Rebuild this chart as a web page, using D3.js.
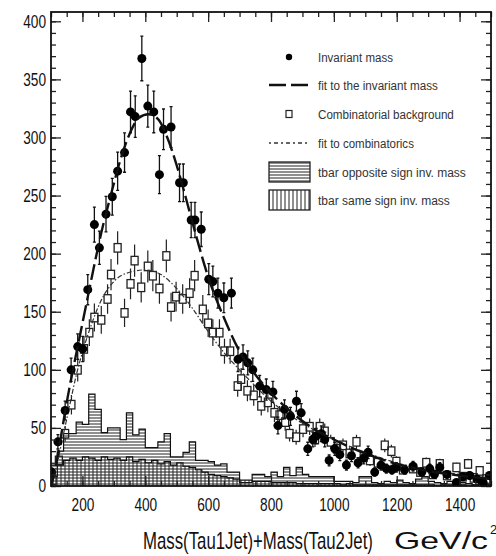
<!DOCTYPE html>
<html>
<head>
<meta charset="utf-8">
<script src="https://cdn.jsdelivr.net/npm/d3@7"></script>
<style>
body{margin:0;background:#fff}
svg{display:block}
</style>
</head>
<body>
<svg id="chart" width="496" height="556"></svg>
<script>
// invariant mass (filled circles)
var invMass=[102,122,145,164,185,201,217,238,254,275,295,312,334,353,368,389,408,427,445,458,482,509,521,546,558,578,602,615,631,650,674,695,711,726,742,764,785,806,822,843,862,881,896,917,933,944,960,971,985,1003,1019,1040,1056,1077,1095,1109,1130,1150,1167,1185,1199,1225,1252,1280,1305,1320,1337,1360,1390,1410,1432,1455,1475,1495]
var invCount=[12,38,65,100,120,118,169,225,205,234,249,271,287,322,318,368,327,322,268,307,309,261,261,229,229,221,178,176,166,162,166,109,111,106,100,86,83,81,52,66,60,73,63,32,40,43,45,40,22,32,27,18,26,20,24,29,12,18,15,14,16,14,17,12,15,10,16,10,3,8,9,6,3,9]

// combinatorial background (open squares)
var combMass=[105,125,145,165,185,205,222,238,260,280,291,312,334,353,366,387,408,424,445,467,482,498,519,541,557,583,600,615,636,652,670,694,705,725,745,769,790,811,827,845,859,880,902,923,940,955,971,990,1010,1029,1050,1072,1095,1115,1140,1162,1183,1199,1220,1252,1275,1294,1315,1337,1360,1390,1410,1427,1445,1464,1485]
var combCount=[5,22,45,70,100,118,132,145,143,161,182,205,149,174,194,171,189,181,170,198,154,163,161,166,181,152,140,132,132,116,116,86,92,82,78,69,72,63,61,55,45,42,49,51,40,51,47,38,32,35,28,38,25,22,20,35,30,21,14,15,12,20,10,19,9,16,8,19,7,13,6]

// fits
var fitInvMass=[100,110,130,150,170,200,230,260,290,320,350,380,410,440,470,500,530,560,600,650,700,750,800,850,900,950,1000,1100,1200,1300,1400,1500]
var fitInvVal=[0,10,40,72,100,140,180,218,250,280,303,317,320,316,300,276,247,217,180,145,116,96,80,67,56,47,40,28,19,13,9,6]
var fitCombMass=[100,120,140,160,180,200,230,260,300,350,400,450,500,550,600,650,700,750,800,900,1000,1100,1200,1300,1400,1500]
var fitCombVal=[0,20,45,70,95,115,140,160,176,184,186,182,170,153,133,115,100,86,73,54,40,29,20,14,10,7]

// ttbar histograms, 20 GeV bins
var binEdges=[100,120,140,160,180,200,220,240,260,280,300,320,340,360,380,400,420,440,460,480,500,520,540,560,580,600,620,640,660,680,700,720,740,760,780,800,820,840,860,880,900,920,940,960,980,1000,1020,1040,1060,1080,1100,1120,1140,1160,1180,1200,1220,1240,1260,1280,1300,1320,1340,1360,1380,1400,1420,1440,1460,1480,1500]
var oppSign=[18,30,45,45,55,53,79,66,46,50,50,40,63,44,49,33,33,38,45,25,25,29,38,22,22,21,18,19,12,12,3,3,10,10,8,12,8,16,9,16,10,8,8,8,8,4,4,4,3,8,8,3,2,4,3,5,3,2,6,8,4,3,2,4,2,3,2,1,2,1]
var sameSign=[8,18,22,24,22,25,24,22,25,23,24,22,25,21,23,20,22,19,21,18,20,17,16,14,12,10,9,8,7,6,5,5,4,4,4,3,3,3,3,2,2,2,2,2,2,2,1,2,1,1,1,1,1,1,1,1,1,1,1,1,1,0,1,1,0,1,0,1,0,1]

var xTicks=[200,400,600,800,1000,1200,1400]
var yTicks=[0,50,100,150,200,250,300,350,400]

var legendItems=[
  {label:'Invariant mass',kind:'dot',w:75},
  {label:'fit to the invariant mass',kind:'dash',w:120},
  {label:'Combinatorial background',kind:'square',w:136},
  {label:'fit to combinatorics',kind:'dotdash',w:96},
  {label:'tbar opposite sign inv. mass',kind:'hatchH',w:148},
  {label:'tbar same sign inv. mass',kind:'hatchV',w:132}
]

var svg=d3.select('#chart')
var frame={left:51,right:491,top:12,bottom:486}
var x=d3.scaleLinear().domain([100,1500]).range([frame.left,frame.right])
var y=d3.scaleLinear().domain([0,408]).range([frame.bottom,frame.top])
var font='"Liberation Sans Narrow","Liberation Sans",Arial,sans-serif'

// squeeze a text horizontally to a given width (condensed ROOT font)
function squeeze(t,px,py,width){
  var w=t.node().getComputedTextLength()
  t.attr('x',0).attr('y',0).attr('transform',`translate(${px},${py}) scale(${width/w},1)`)
}

var defs=svg.append('defs')
defs.append('clipPath').attr('id','clip').append('rect')
  .attr('x',frame.left).attr('y',frame.top)
  .attr('width',frame.right-frame.left).attr('height',frame.bottom-frame.top)
var pH=defs.append('pattern').attr('id','hatchH').attr('patternUnits','userSpaceOnUse').attr('width',6).attr('height',3)
pH.append('line').attr('x1',0).attr('x2',6).attr('y1',1).attr('y2',1).attr('stroke','#222').attr('stroke-width',1)
var pV=defs.append('pattern').attr('id','hatchV').attr('patternUnits','userSpaceOnUse').attr('width',4).attr('height',6)
pV.append('line').attr('x1',1).attr('x2',1).attr('y1',0).attr('y2',6).attr('stroke','#222').attr('stroke-width',1)

var plot=svg.append('g').attr('clip-path','url(#clip)')

// step histograms
function histData(vals){
  var pts=vals.map((v,i)=>[binEdges[i],v])
  pts.push([binEdges[vals.length],vals[vals.length-1]])
  return pts
}
var area=d3.area().curve(d3.curveStepAfter).x(d=>x(d[0])).y0(y(0)).y1(d=>y(d[1]))
var step=d3.line().curve(d3.curveStepAfter).x(d=>x(d[0])).y(d=>y(d[1]))
plot.append('path').attr('d',area(histData(oppSign))).attr('fill','url(#hatchH)')
plot.append('path').attr('d',step(histData(oppSign))).attr('fill','none').attr('stroke','#111').attr('stroke-width',1.2)
plot.append('path').attr('d',area(histData(sameSign))).attr('fill','url(#hatchV)')
plot.append('path').attr('d',step(histData(sameSign))).attr('fill','none').attr('stroke','#111').attr('stroke-width',1.2)

// combinatorial points, Poisson error bars
var comb=combMass.map((m,i)=>({m:m,v:combCount[i]}))
var sqW=7,sqH=8.5
var gc=plot.append('g')
gc.selectAll('path.err').data(comb).join('path').attr('class','err')
  .attr('d',d=>{
    var cx=x(d.m),cy=y(d.v),e=Math.sqrt(d.v)
    return `M${cx},${y(d.v+e)}V${cy-sqH/2}M${cx},${cy+sqH/2}V${y(Math.max(0,d.v-e))}`
  })
  .attr('stroke','#222').attr('stroke-width',1.2).attr('fill','none')
gc.selectAll('rect').data(comb).join('rect')
  .attr('x',d=>x(d.m)-sqW/2).attr('y',d=>y(d.v)-sqH/2)
  .attr('width',sqW).attr('height',sqH)
  .attr('fill','none').attr('stroke','#222').attr('stroke-width',1.3)

var fitLine=d3.line().curve(d3.curveMonotoneX).x(d=>x(d[0])).y(d=>y(d[1]))
plot.append('path').attr('d',fitLine(fitCombMass.map((m,i)=>[m,fitCombVal[i]])))
  .attr('fill','none').attr('stroke','#333').attr('stroke-width',1.2).attr('stroke-dasharray','5,2,1.5,2')

// invariant mass points
var inv=invMass.map((m,i)=>({m:m,v:invCount[i]}))
var gi=plot.append('g')
gi.selectAll('path').data(inv).join('path')
  .attr('d',d=>{
    var cx=x(d.m),e=Math.sqrt(d.v),t=y(d.v+e),b=y(Math.max(0,d.v-e))
    return `M${cx},${t}V${b}M${cx-1.5},${t}H${cx+1.5}M${cx-1.5},${b}H${cx+1.5}`
  })
  .attr('stroke','#111').attr('stroke-width',1.3).attr('fill','none')
gi.selectAll('circle').data(inv).join('circle')
  .attr('cx',d=>x(d.m)).attr('cy',d=>y(d.v)).attr('r',4.5).attr('fill','#000')

plot.append('path').attr('d',fitLine(fitInvMass.map((m,i)=>[m,fitInvVal[i]])))
  .attr('fill','none').attr('stroke','#111').attr('stroke-width',2.4).attr('stroke-dasharray','16,5')

// axes: ticks inside on all four sides
function clean(g){g.select('.domain').remove();g.selectAll('line').attr('stroke','#222').attr('stroke-width',1.3)}
var xMinor=d3.range(100,1501,50),yMinor=d3.range(0,409,10)
svg.append('g').attr('transform',`translate(0,${frame.bottom})`).call(d3.axisBottom(x).tickValues(xMinor).tickSize(-5).tickFormat('')).call(clean)
var xa=svg.append('g').attr('transform',`translate(0,${frame.bottom})`)
  .call(d3.axisBottom(x).tickValues(xTicks).tickSize(-10).tickPadding(0).tickFormat(d3.format('d'))).call(clean)
xa.selectAll('text').attr('y',25).attr('dy',0).attr('font-size',19).attr('font-family',font).attr('fill','#111')
  .attr('textLength',d=>String(d).length*7.6).attr('lengthAdjust','spacingAndGlyphs')
svg.append('g').attr('transform',`translate(0,${frame.top})`).call(d3.axisTop(x).tickValues(xMinor).tickSize(-5).tickFormat('')).call(clean)
svg.append('g').attr('transform',`translate(0,${frame.top})`).call(d3.axisTop(x).tickValues(xTicks).tickSize(-10).tickFormat('')).call(clean)

svg.append('g').attr('transform',`translate(${frame.left},0)`).call(d3.axisLeft(y).tickValues(yMinor).tickSize(-5).tickFormat('')).call(clean)
var ya=svg.append('g').attr('transform',`translate(${frame.left},0)`).call(d3.axisLeft(y).tickValues(yTicks).tickSize(-10).tickPadding(5)).call(clean)
ya.selectAll('text').attr('font-size',18).attr('font-family',font).attr('fill','#111')
  .attr('textLength',d=>String(d).length*7.6).attr('lengthAdjust','spacingAndGlyphs')
svg.append('g').attr('transform',`translate(${frame.right},0)`).call(d3.axisRight(y).tickValues(yMinor).tickSize(-5).tickFormat('')).call(clean)
svg.append('g').attr('transform',`translate(${frame.right},0)`).call(d3.axisRight(y).tickValues(yTicks).tickSize(-10).tickFormat('')).call(clean)

svg.append('rect').attr('x',frame.left).attr('y',frame.top)
  .attr('width',frame.right-frame.left).attr('height',frame.bottom-frame.top)
  .attr('fill','none').attr('stroke','#111').attr('stroke-width',1.8)

// axis title
var t1=svg.append('text').attr('font-size',24).attr('font-family',font).attr('fill','#111').text('Mass(Tau1Jet)+Mass(Tau2Jet)')
squeeze(t1,143,549,230)
var t2=svg.append('text').attr('font-size',24).attr('font-family',font).attr('fill','#111').text('GeV/c')
squeeze(t2,394,549,94)
svg.append('text').attr('x',490).attr('y',534).attr('font-size',13).attr('font-family',font).attr('fill','#111').text('2')

// legend
var lg=svg.append('g')
var rowY=[57,85,114,143,172,200]
legendItems.forEach((it,i)=>{
  var cy=rowY[i]
  if(it.kind=='dot') lg.append('circle').attr('cx',289).attr('cy',cy).attr('r',3.2).attr('fill','#000')
  if(it.kind=='square') lg.append('rect').attr('x',286).attr('y',cy-3.5).attr('width',6).attr('height',7).attr('fill','none').attr('stroke','#222').attr('stroke-width',1.2)
  if(it.kind=='dash') lg.append('line').attr('x1',269).attr('x2',310).attr('y1',cy).attr('y2',cy).attr('stroke','#111').attr('stroke-width',2.4).attr('stroke-dasharray','17,5')
  if(it.kind=='dotdash') lg.append('line').attr('x1',269).attr('x2',310).attr('y1',cy).attr('y2',cy).attr('stroke','#333').attr('stroke-width',1.3).attr('stroke-dasharray','2,3,4,3')
  if(it.kind=='hatchH'||it.kind=='hatchV') lg.append('rect').attr('x',269).attr('y',cy-10).attr('width',41).attr('height',20)
      .attr('fill',`url(#${it.kind})`).attr('stroke','#222').attr('stroke-width',1.3)
  var t=lg.append('text').attr('dy','0.35em').attr('font-size',13.5).attr('font-family',font).attr('fill','#333').text(it.label)
  squeeze(t,318,cy,it.w)
})
</script>
</body>
</html>
